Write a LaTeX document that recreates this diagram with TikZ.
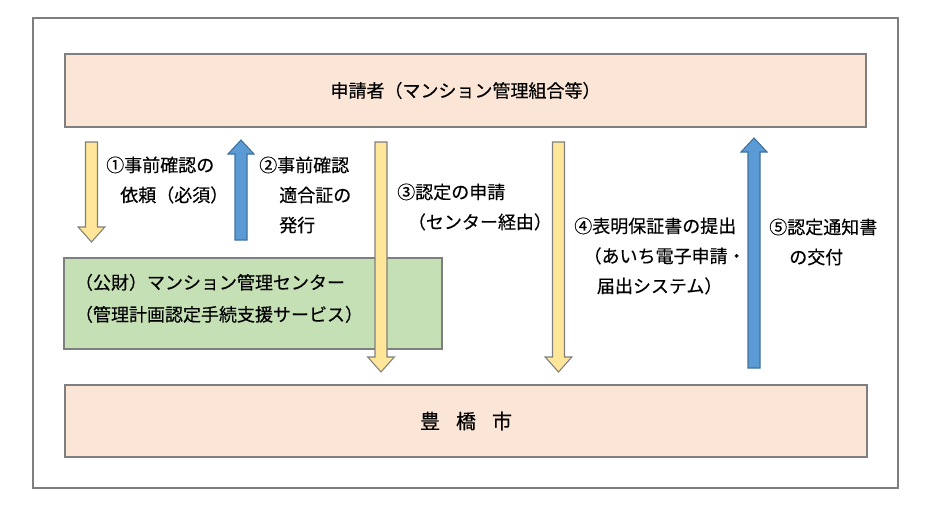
\documentclass[tikz,border=0pt]{standalone}
\usepackage{fontspec}
\setmainfont{Noto Sans CJK JP}[FakeBold=0.35]
\usetikzlibrary{calc}
\definecolor{peach}{HTML}{FBE5D6}
\definecolor{greenbox}{HTML}{C5E0B4}
\definecolor{yell}{HTML}{FFE699}
\definecolor{blu}{HTML}{5B9BD5}
\definecolor{bluline}{HTML}{41719C}
\definecolor{framegray}{HTML}{7F7F7F}
\newcommand{\arrdown}[3]{%
  \draw[#1] let \p1=(#2),\p2=(#3) in
  (\x1-4.5pt,\y1) -- (\x1+4.5pt,\y1) -- (\x1+4.5pt,\y2+11.25pt) -- (\x1+10pt,\y2+11.25pt)
  -- (\x2,\y2) -- (\x1-10pt,\y2+11.25pt) -- (\x1-4.5pt,\y2+11.25pt) -- cycle;}
\newcommand{\arrup}[3]{%
  \draw[#1] let \p1=(#2),\p2=(#3) in
  (\x1-4.5pt,\y1) -- (\x1+4.5pt,\y1) -- (\x1+4.5pt,\y2-10.5pt) -- (\x1+9.75pt,\y2-10.5pt)
  -- (\x2,\y2) -- (\x1-9.75pt,\y2-10.5pt) -- (\x1-4.5pt,\y2-10.5pt) -- cycle;}
\begin{document}
\begin{tikzpicture}[x=0.75pt,y=-0.75pt,
  box/.style={draw=framegray, line width=0.9pt, inner sep=0pt},
  lbl/.style={anchor=west, align=left, inner sep=0pt, font=\fontsize{13.5pt}{22.5pt}\selectfont},
  yarr/.style={draw=framegray, fill=yell, line width=0.8pt},
  barr/.style={draw=bluline, fill=blu, line width=0.8pt}]
\useasboundingbox (0,0) rectangle (932,510);
\node[box, line width=1.1pt, minimum width=648.75pt, minimum height=352.5pt] (frame) at (465.5,253) {};
\node[box, fill=peach, minimum width=600.75pt, minimum height=54.75pt,
  font=\fontsize{13.5pt}{16pt}\selectfont] (applicant) at (465.5,90.5) {申請者（マンション管理組合等）};
\node[box, fill=peach, minimum width=601.5pt, minimum height=54pt,
  font=\fontsize{15pt}{18pt}\selectfont] (city) at (466,421) {\spaceskip=12pt 豊 橋 市};
\node[box, fill=greenbox, minimum width=283.5pt, minimum height=68.25pt, inner xsep=8.25pt,
  text width=267pt, align=left, font=\fontsize{13.5pt}{24pt}\selectfont] (center) at (253,303.5)
  {（公財）マンション管理センター\\（管理計画認定手続支援サービス）\rule[-9pt]{0pt}{0pt}};
\coordinate (a1s) at (91.5,142); \coordinate (a1e) at (91.5,242);
\coordinate (a2s) at (241,240);  \coordinate (a2e) at (241,140);
\coordinate (a3s) at (381,142);  \coordinate (a3e) at (381,372);
\coordinate (a4s) at (558.5,142); \coordinate (a4e) at (558.5,372);
\coordinate (a5s) at (754,368);  \coordinate (a5e) at (754,138);
\arrdown{yarr}{a1s}{a1e}
\arrup{barr}{a2s}{a2e}
\arrdown{yarr}{a3s}{a3e}
\arrdown{yarr}{a4s}{a4e}
\arrup{barr}{a5s}{a5e}
\node[lbl] (l1) at (106,180) {①事前確認の\\\hspace*{10.5pt}依頼（必須）};
\node[lbl] (l2) at (259,195) {②事前確認\\\hspace*{15pt}適合証の\\\hspace*{15pt}発行};
\node[lbl] (l3) at (397,207) {③認定の申請\\\hspace*{8pt}（センター経由）};
\node[lbl] (l4) at (574,256) {④表明保証書の提出\\\hspace*{7pt}（あいち電子申請・\\\hspace*{17pt}届出システム）};
\node[lbl] (l5) at (769,242) {⑤認定通知書\\\hspace*{15pt}の交付};
\end{tikzpicture}
\end{document}
